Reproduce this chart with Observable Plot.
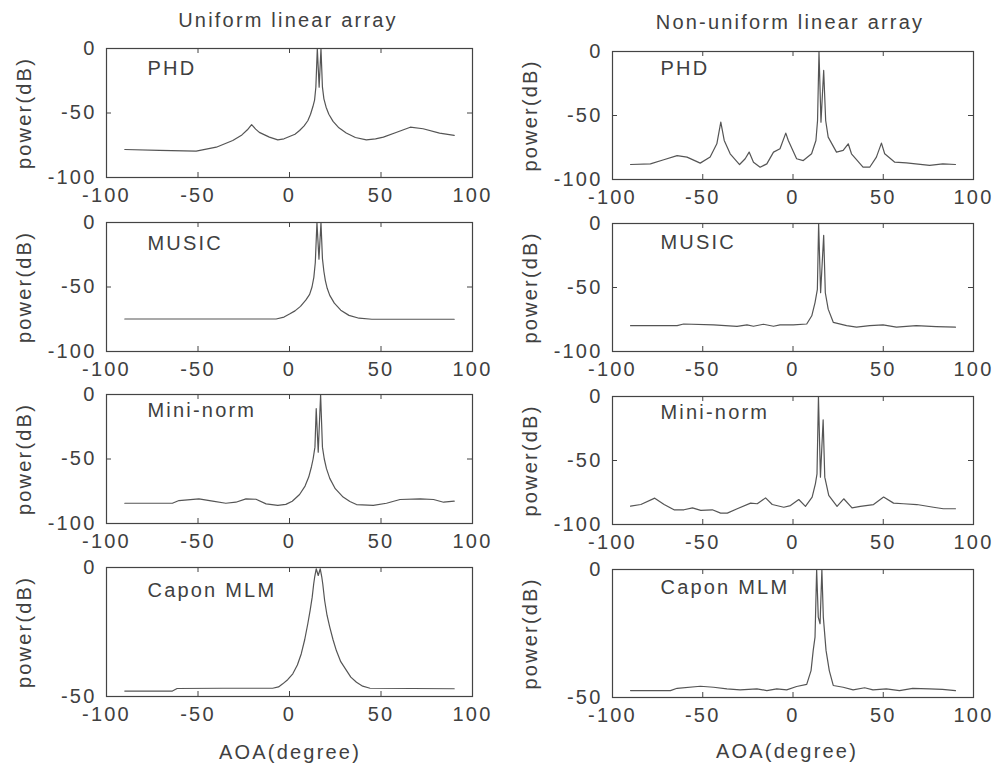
<!DOCTYPE html>
<html><head><meta charset="utf-8">
<script src="https://cdn.jsdelivr.net/npm/d3@7"></script>
<script src="https://cdn.jsdelivr.net/npm/@observablehq/plot@0.6"></script>
<style>
body{margin:0;background:#fff;}
#wrap{position:relative;width:1001px;height:767px;overflow:hidden;background:#fff;font-family:"Liberation Sans",Arial,sans-serif;color:#404040;}
.panel{position:absolute;}
.lbl{position:absolute;transform:translate(-50%,-50%);font-size:20px;letter-spacing:2.2px;white-space:nowrap;line-height:1;}
</style></head><body><div id="wrap"></div>
<script>
// ---- data (AOA in degrees, power in dB) ----
const columnTitles = ["Uniform linear array", "Non-uniform linear array"];
const methods = ["PHD", "MUSIC", "Mini-norm", "Capon MLM"];
const xTicks = [-100, -50, 0, 50, 100];
const yTicks = [0, -50, -100];
const yTicksCapon = [0, -50];

const ulaPHD = [[-90,-78.3],[-71,-79],[-51,-79.6],[-40,-76.5],[-31,-71.3],[-26,-67],[-23,-63],[-20.7,-59],[-18.5,-62.5],[-16.5,-65],[-11,-68.7],[-6.4,-70.8],[-3,-70],[0,-68.2],[3,-66.5],[5.5,-63.6],[8,-60],[10,-56],[11.5,-51],[12.8,-45],[13.7,-40],[14.4,-30],[15.2,0],[16.2,-30],[17.2,0],[18,-30],[18.8,-39],[20,-45.5],[21.5,-51],[23.8,-56.5],[27,-61.5],[31,-65.5],[36,-69],[42,-70.8],[47,-70],[51.3,-68.7],[58.6,-64.9],[66,-61],[73,-62.2],[82,-65.6],[90,-67.4]];
const ulaMUSIC = [[-90,-74.8],[-60,-74.8],[-30,-74.8],[-7.3,-74.8],[-3,-73.3],[0,-71],[3,-68.5],[6,-65],[9,-60],[11,-55.7],[12.3,-50],[13.3,-42.5],[14.1,-31],[15,0],[16.1,-28.4],[17.2,0],[18,-28],[18.8,-38],[19.6,-45],[20.6,-51],[22,-56.5],[24.5,-62.5],[28,-68],[32.5,-72],[38,-74.2],[45,-75],[60,-75],[90,-75]];
const ulaMini = [[-90,-84.3],[-64,-84.3],[-60.4,-82.2],[-49.5,-80.9],[-42,-82.7],[-34.8,-84.3],[-29.3,-83.5],[-23.8,-80.9],[-18.3,-81.2],[-12.8,-84.8],[-6.4,-86],[-2,-85.2],[1.5,-82.8],[5.5,-77.5],[8.5,-71],[10.5,-64],[12,-56],[12.9,-50],[13.9,-40.8],[14.6,-11],[15.7,-44.7],[17,0],[18,-40.8],[19,-50],[20.2,-57.5],[22,-65],[25,-73],[29.3,-79.5],[33,-83],[36.6,-85.3],[45.8,-86],[53,-84.3],[60.4,-81.4],[71.4,-80.9],[78.7,-81.4],[84.2,-83.5],[90,-82.7]];
const ulaCapon = [[-90,-47.9],[-64,-47.9],[-61.4,-46.9],[-36.6,-46.8],[-9.2,-46.8],[-6,-46.3],[-3.7,-45.1],[-1,-43.5],[1.8,-41.2],[4.3,-37.8],[6.4,-33.5],[8.3,-28],[10,-21.8],[11.3,-16.5],[12.4,-11.5],[13.2,-6.5],[13.8,-3.5],[14.6,-0.5],[15.7,-3.1],[16.8,-0.5],[17.6,-3.5],[18.2,-6.5],[19.2,-12.8],[20.5,-18.5],[22,-23.1],[23.8,-28],[25.6,-32.2],[28,-36.5],[31.1,-39.9],[33.5,-42.5],[36.6,-44.5],[40,-46],[44,-46.8],[90,-47]];

const nlaPHD = [[-90,-88.3],[-79,-87.8],[-71.6,-84.6],[-64.2,-81.3],[-58.7,-82.5],[-51.4,-87.2],[-45.9,-82.5],[-42.2,-72.1],[-40,-55.2],[-38.1,-69.5],[-34.8,-79.9],[-29.6,-88.3],[-26.5,-83.8],[-24.3,-78.6],[-21.9,-86.5],[-18.2,-90.4],[-14.5,-87.8],[-10.8,-78.6],[-7.2,-76],[-4,-63.8],[-2.6,-69.5],[2,-83.8],[5.7,-85.2],[10.3,-79.9],[12.7,-69.5],[13.6,-53.9],[14.4,0],[15.5,-55.2],[17,-14.8],[18.1,-53.9],[19.5,-66.9],[24.1,-78.6],[27.8,-77.3],[30.6,-72.1],[32.4,-79.9],[38.8,-90.4],[42.5,-90.4],[46.2,-82.5],[49,-71.6],[50.8,-79.9],[56.4,-86.5],[62.8,-87],[75.7,-89],[83,-87.8],[90,-88.3]];
const nlaMUSIC = [[-90,-79.8],[-64.2,-79.8],[-60.6,-78.5],[-44,-79.2],[-31,-80.3],[-25.5,-79.2],[-21.9,-80.3],[-16.4,-78.7],[-10.8,-80.3],[-7.2,-79.2],[0.2,-79.2],[7.6,-78.5],[10.4,-72.1],[12.2,-61.8],[13.5,-51.5],[14.2,0],[15.3,-54.1],[17,-9.2],[17.9,-54.1],[19.5,-66.9],[22.3,-77.2],[29.7,-79.8],[35.2,-81],[42.5,-79.8],[49.9,-79.2],[57.3,-81],[68.3,-79.8],[79.3,-80.5],[90,-81]];
const nlaMini = [[-90,-85.7],[-84.3,-84.4],[-76.6,-79.4],[-71.4,-84.4],[-65.9,-88.5],[-60.4,-88.5],[-55.7,-87],[-51.1,-89],[-44.7,-88.5],[-40.1,-91.1],[-36.4,-91.1],[-30.9,-87.7],[-23.5,-83.3],[-19.8,-83.8],[-15.2,-79.2],[-11.5,-84.4],[-5.1,-86.5],[-1.4,-85.2],[3.2,-80.5],[6.9,-85.9],[10.6,-78.6],[12.4,-68.2],[13.3,-60.4],[14.1,0],[15.2,-63],[16.7,-18.2],[17.6,-63],[19.8,-77.3],[24.4,-85.9],[28.1,-79.9],[32.7,-87],[37.3,-85.9],[44.6,-84.4],[50.2,-78.6],[55.7,-83.3],[61.2,-83.8],[68.6,-84.4],[77.8,-86.5],[83.3,-87.7],[90,-87.7]];
const nlaCapon = [[-90,-47.3],[-67.9,-47.3],[-64.2,-46.4],[-51.3,-45.6],[-44,-46],[-36.6,-46.6],[-29.3,-47],[-20,-46.6],[-14.5,-47.3],[-9,-46.6],[-3.5,-47],[2,-45.7],[7.6,-44.9],[10,-39.5],[11.2,-31.6],[12.2,-26.4],[13.1,0],[14,-18.6],[15,-21.2],[16,0],[16.8,-18.6],[18.3,-31.6],[20.1,-39.5],[22.3,-45.3],[27.8,-46],[33.3,-47],[39.7,-46.2],[44.3,-47],[51.7,-46.6],[59,-47.3],[66.3,-46.4],[75.5,-46.6],[82.8,-46.8],[90,-47.3]];

const xLabel = "AOA(degree)";
const yLabel = "power(dB)";

// ---- layout ----
const wrap = document.getElementById("wrap");
const ink = "#404040";
const TL = 5; // inner tick length (px)

function panel(series, name, o) {
  const rows = series.map(([x, y]) => ({x, y}));
  const capon = o.capon;
  const mT = 10, mB = 40;
  const fw = o.width - o.mL - o.mR;
  const yt = capon ? yTicksCapon : yTicks;
  const chart = Plot.plot({
    width: o.width, height: o.frameH + mT + mB,
    marginTop: mT, marginBottom: mB, marginLeft: o.mL, marginRight: o.mR,
    x: {domain: [-100, 100]},
    y: {domain: capon ? [-50, 0] : [-100, 0]},
    style: {fontFamily: '"Liberation Sans", Arial, sans-serif', fontSize: "20px", letterSpacing: "2.2px", color: ink, background: "transparent", overflow: "visible"},
    marks: [
      Plot.axisX({anchor: "bottom", ticks: xTicks, tickSize: 0, tickPadding: 10, tickFormat: d => String(d), label: null}),
      Plot.axisY({anchor: "left", ticks: yt, tickSize: 0, tickPadding: 10, tickFormat: d => String(d), label: null}),
      // inner (MATLAB-style) ticks on all four sides
      Plot.tickX(xTicks, {x: d => d, insetTop: o.frameH - TL, stroke: "#444"}),
      Plot.tickX(xTicks, {x: d => d, insetBottom: o.frameH - TL, stroke: "#444"}),
      Plot.tickY(yt, {y: d => d, insetRight: fw - TL, stroke: "#444"}),
      Plot.tickY(yt, {y: d => d, insetLeft: fw - TL, stroke: "#444"}),
      Plot.line(rows, {x: "x", y: "y", stroke: "#555", strokeWidth: 1.2, clip: true}),
      Plot.frame({stroke: "#444", strokeWidth: 1.2}),
      Plot.text([name], {frameAnchor: "top-left", dx: o.nameDx, dy: o.nameDy, textAnchor: "start", lineAnchor: "middle"}),
      Plot.text([yLabel], {frameAnchor: "left", rotate: -90, dx: -82, textAnchor: "middle", lineAnchor: "middle"})
    ]
  });
  chart.classList.add("panel");
  chart.style.left = o.left + "px";
  chart.style.top = (o.frameTop - mT) + "px";
  wrap.appendChild(chart);
}

const leftCol = [ulaPHD, ulaMUSIC, ulaMini, ulaCapon];
const rightCol = [nlaPHD, nlaMUSIC, nlaMini, nlaCapon];
const leftTops = [48, 222, 394, 567];
const rightTops = [51, 223, 396, 569];
const leftNameDy = [20, 21, 16, 23];
const rightNameDy = [17, 19, 16, 18];

leftCol.forEach((s, i) => panel(s, methods[i], {left: 0, width: 490, mL: 106, mR: 18, frameH: 129, frameTop: leftTops[i], capon: i === 3, nameDx: 41, nameDy: leftNameDy[i]}));
rightCol.forEach((s, i) => panel(s, methods[i], {left: 500, width: 491, mL: 112, mR: 18, frameH: 128, frameTop: rightTops[i], capon: i === 3, nameDx: 48, nameDy: rightNameDy[i]}));

function label(text, x, y) {
  const d = document.createElement("div");
  d.className = "lbl";
  d.textContent = text;
  d.style.left = x + "px";
  d.style.top = y + "px";
  wrap.appendChild(d);
}
label(columnTitles[0], 288, 20);
label(columnTitles[1], 790, 22);
label(xLabel, 290, 752);
label(xLabel, 787, 751);
</script></body></html>
